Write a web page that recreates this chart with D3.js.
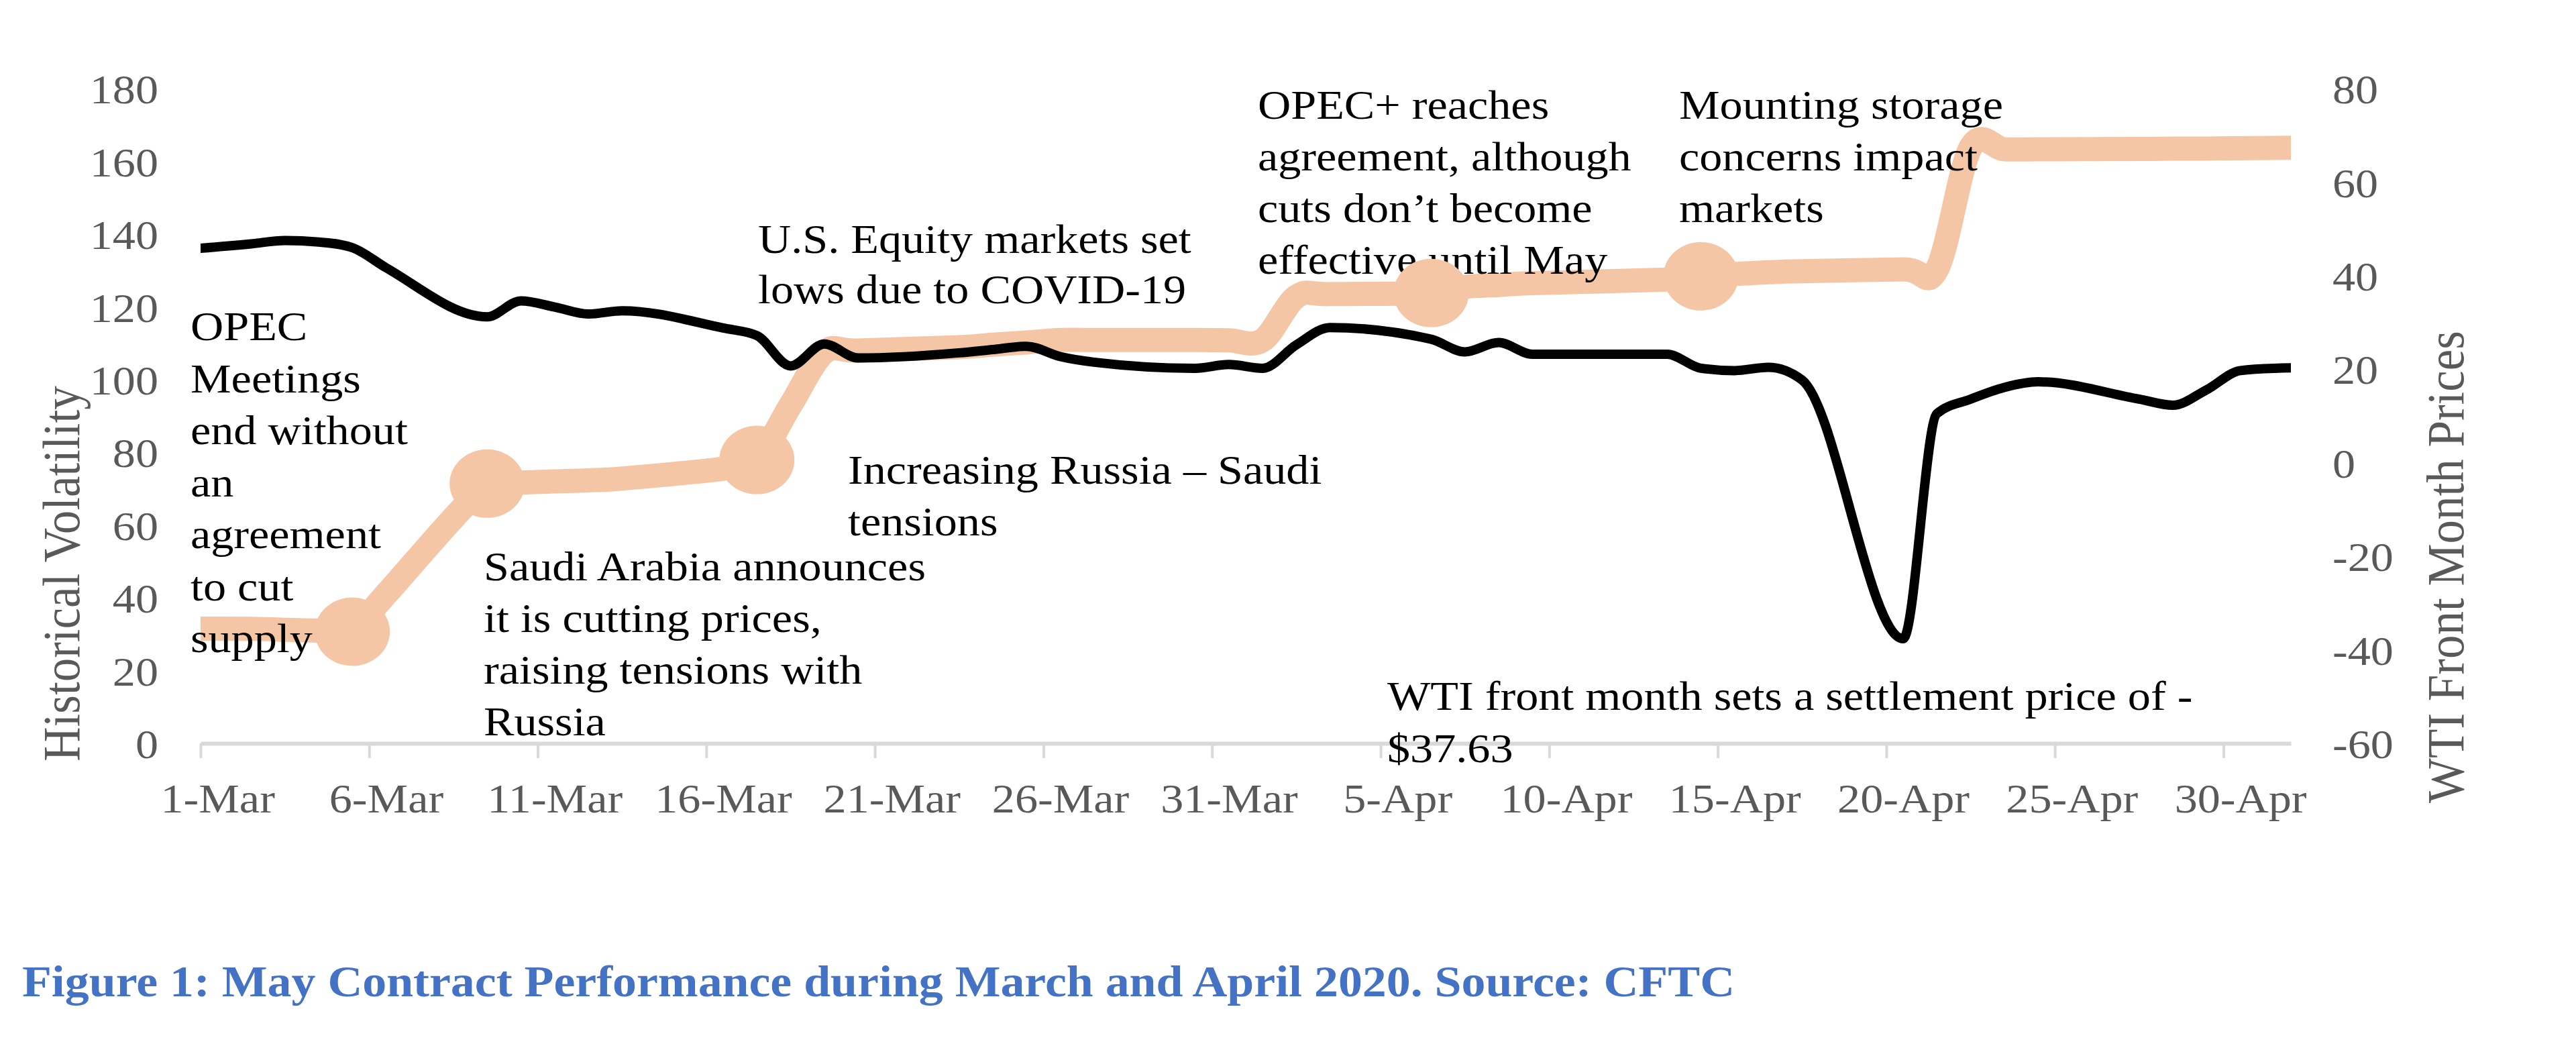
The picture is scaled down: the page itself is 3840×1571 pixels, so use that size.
<!DOCTYPE html>
<html><head><meta charset="utf-8">
<script src="https://cdn.jsdelivr.net/npm/d3@7"></script>
<style>
html,body{margin:0;padding:0;background:#fff;}
svg{display:block;}
</style></head>
<body><svg id="chart" width="3840" height="1571"></svg>
<script>
// ---------------- DATA ----------------
const dates = ["2020-02-28","2020-03-02","2020-03-03","2020-03-04","2020-03-05","2020-03-06",
  "2020-03-09","2020-03-10","2020-03-11","2020-03-12","2020-03-13","2020-03-16","2020-03-17",
  "2020-03-18","2020-03-19","2020-03-20","2020-03-23","2020-03-24","2020-03-25","2020-03-26",
  "2020-03-27","2020-03-30","2020-03-31","2020-04-01","2020-04-02","2020-04-03","2020-04-06",
  "2020-04-07","2020-04-08","2020-04-09","2020-04-13","2020-04-14","2020-04-15","2020-04-16",
  "2020-04-17","2020-04-20","2020-04-21","2020-04-22","2020-04-23","2020-04-24","2020-04-27",
  "2020-04-28","2020-04-29","2020-04-30","2020-05-01","2020-05-04"];
// WTI front month price (right axis)
const wtiPrice = [45.0,46.8,47.5,47.2,46.0,41.7,31.2,34.6,33.3,31.8,32.5,28.8,27.2,20.7,25.4,22.4,
  23.5,24.2,24.9,22.7,21.5,20.2,21.0,20.2,25.2,28.9,26.4,23.7,25.7,23.2,23.2,20.2,19.7,20.4,17.7,
  -37.63,10.5,13.6,16.1,17.3,13.6,12.3,15.6,19.7,20.2,20.5];
// Historical volatility (left axis)
const histVol = [31.5,31.5,31.2,31.0,30.7,41.0,71.4,71.7,72.0,72.3,72.8,75.5,77.9,93.0,107.5,108.0,
  108.9,109.6,110.2,110.9,110.9,110.9,110.8,110.8,122.8,123.5,123.8,125.5,126.0,126.5,127.5,128.4,
  129.0,129.5,129.8,130.3,130.3,163.8,163.3,163.3,163.4,163.5,163.5,163.6,163.7,163.7];
// dates carrying an event marker on the volatility line
const eventDates = ["2020-03-05","2020-03-09","2020-03-17","2020-04-06","2020-04-14"];
const xTickDates = ["2020-03-01","2020-03-06","2020-03-11","2020-03-16","2020-03-21","2020-03-26",
  "2020-03-31","2020-04-05","2020-04-10","2020-04-15","2020-04-20","2020-04-25","2020-04-30"];
const xFirstDay = "2020-03-01", xLastDay = "2020-05-01";
const leftTicks = [0,20,40,60,80,100,120,140,160,180];
const rightTicks = [-60,-40,-20,0,20,40,60,80];
const leftTitle = "Historical Volatility";
const rightTitle = "WTI Front Month Prices";
const caption = "Figure 1: May Contract Performance during March and April 2020. Source: CFTC";
const annotationTexts = [
  ["OPEC","Meetings","end without","an","agreement","to cut","supply"],
  ["Saudi Arabia announces","it is cutting prices,","raising tensions with","Russia"],
  ["U.S. Equity markets set","lows due to COVID-19"],
  ["Increasing Russia \u2013 Saudi","tensions"],
  ["OPEC+ reaches","agreement, although","cuts don\u2019t become","effective until May"],
  ["Mounting storage","concerns impact","markets"],
  ["WTI front month sets a settlement price of -","$37.63"]
];

// ---------------- LAYOUT ----------------
const S = 1.1;               // horizontal stretch of the original picture
const FONT = "'Liberation Serif','Times New Roman',serif";
const plot = {left: 299, right: 3415, top: 132, bottom: 1108};
const annotationLayout = [
  {x: 284, y: 507, dy: 77.5},
  {x: 721, y: 865, dy: 77},
  {x: 1130, y: 377, dy: 75},
  {x: 1264, y: 721, dy: 77},
  {x: 1875, y: 177, dy: 77},
  {x: 2503, y: 177, dy: 77},
  {x: 2068, y: 1058, dy: 78}
];
const ORANGE = "#f5c6a5";

const parse = d3.utcParse("%Y-%m-%d");
const svg = d3.select("#chart");
svg.append("rect").attr("width",3840).attr("height",1571).attr("fill","#fff");

const x = d3.scaleUtc()
  .domain([d3.utcHour.offset(parse(xFirstDay), -12), d3.utcHour.offset(parse(xLastDay), 12)])
  .range([plot.left, plot.right]);
const yL = d3.scaleLinear().domain([0,180]).range([plot.bottom, plot.top]);
const yR = d3.scaleLinear().domain([-60,80]).range([plot.bottom, plot.top]);

const series = dates.map((d,i) => ({date: parse(d), wti: wtiPrice[i], vol: histVol[i]}));

svg.append("defs").append("clipPath").attr("id","plotclip")
  .append("rect").attr("x",plot.left).attr("y",0)
  .attr("width",plot.right-plot.left).attr("height",1571);

// ---------------- X AXIS ----------------
const tickDates = xTickDates.map(parse);
const gx = svg.append("g").attr("transform",`translate(0,${yL(0)})`)
  .call(d3.axisBottom(x).tickValues(tickDates.map(d => d3.utcHour.offset(d,-12)))
    .tickFormat("").tickSize(22).tickSizeOuter(0));
gx.select(".domain").attr("stroke","#d9d9d9").attr("stroke-width",6);
gx.selectAll(".tick line").attr("stroke","#d9d9d9").attr("stroke-width",4);

const gxl = svg.append("g").attr("transform",`translate(0,${yL(0)})`)
  .call(d3.axisBottom(x).tickValues(tickDates).tickFormat(d3.utcFormat("%-d-%b"))
    .tickSize(0).tickPadding(59));
gxl.select(".domain").remove();
gxl.attr("font-family",FONT).attr("font-size",62);
gxl.selectAll("text").attr("fill","#595959").attr("transform",`scale(${S},1)`);

// ---------------- Y AXES ----------------
const gyl = svg.append("g").attr("transform","translate(236,0)")
  .call(d3.axisLeft(yL).tickValues(leftTicks).tickFormat(d => String(d)).tickSize(0).tickPadding(0));
gyl.select(".domain").remove();
gyl.attr("font-family",FONT).attr("font-size",62);
gyl.selectAll("text").attr("fill","#595959").attr("dy","0.35em").attr("transform",`scale(${S},1)`);

const gyr = svg.append("g").attr("transform","translate(3477,0)")
  .call(d3.axisRight(yR).tickValues(rightTicks).tickFormat(d => String(d)).tickSize(0).tickPadding(0));
gyr.select(".domain").remove();
gyr.attr("font-family",FONT).attr("font-size",62);
gyr.selectAll("text").attr("fill","#595959").attr("dy","0.35em").attr("transform",`scale(${S},1)`);

svg.append("text").attr("transform",`translate(91,855) scale(${S},1) rotate(-90)`)
  .attr("text-anchor","middle").attr("dy","0.35em")
  .attr("font-family",FONT).attr("font-size",71).attr("fill","#595959").text(leftTitle);
svg.append("text").attr("transform",`translate(3645,845) scale(${S},1) rotate(-90)`)
  .attr("text-anchor","middle").attr("dy","0.35em")
  .attr("font-family",FONT).attr("font-size",71).attr("fill","#595959").text(rightTitle);

// ---------------- LINES ----------------
const gLines = svg.append("g").attr("clip-path","url(#plotclip)");
const volLine = d3.line().x(d => x(d.date)).y(d => yL(d.vol)).curve(d3.curveCatmullRom.alpha(0));
const wtiLine = d3.line().x(d => x(d.date)).y(d => yR(d.wti)).curve(d3.curveMonotoneX);
gLines.append("path").datum(series).attr("d",volLine).attr("fill","none")
  .attr("stroke",ORANGE).attr("stroke-width",36).attr("stroke-linejoin","round").attr("stroke-linecap","round");
gLines.append("path").datum(series).attr("d",wtiLine).attr("fill","none")
  .attr("stroke","#000").attr("stroke-width",14).attr("stroke-linejoin","round").attr("stroke-linecap","round");

// ---------------- ANNOTATIONS ----------------
const gAnn = svg.append("g").attr("font-family",FONT).attr("font-size",62).attr("fill","#000");
annotationTexts.forEach((lines,k) => {
  const L = annotationLayout[k];
  lines.forEach((t,i) => {
    gAnn.append("text").attr("transform",`translate(${L.x},${L.y + i*L.dy}) scale(${S},1)`).text(t);
  });
});

// ---------------- EVENT MARKERS ----------------
const events = eventDates.map(s => series.find(d => +d.date === +parse(s)));
svg.append("g").selectAll("ellipse").data(events).join("ellipse")
  .attr("cx",d => x(d.date)).attr("cy",d => yL(d.vol))
  .attr("rx",56).attr("ry",51).attr("fill",ORANGE);

// ---------------- CAPTION ----------------
svg.append("text").attr("transform",`translate(33,1485) scale(${S},1)`)
  .attr("font-family",FONT).attr("font-size",65.3).attr("font-weight","bold")
  .attr("fill","#4472c4").text(caption);
</script>
</body></html>
